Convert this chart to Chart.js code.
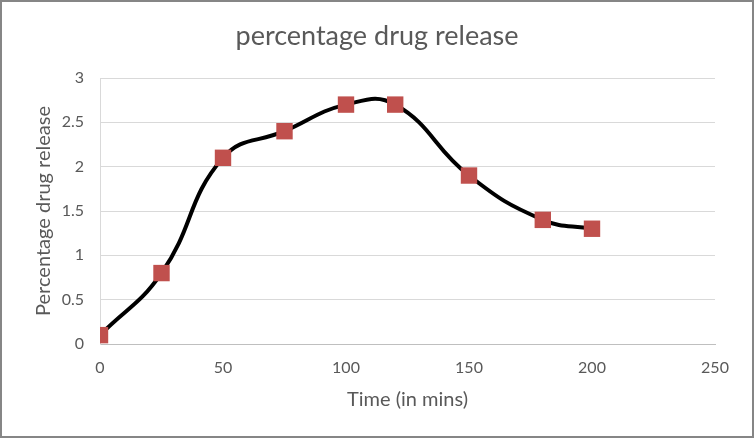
<!DOCTYPE html>
<html>
<head>
<meta charset="utf-8">
<script src="https://cdn.jsdelivr.net/npm/chart.js@4"></script>
<style>
  html, body { margin: 0; padding: 0; background: #fff; }
  #wrap { width: 754px; height: 438px; }
</style>
</head>
<body>
<div id="wrap"><canvas id="releaseChart" width="754" height="438"></canvas></div>
<script>
const timeMins = [0, 25, 50, 75, 100, 120, 150, 180, 200];
const releasePct = [0.1, 0.8, 2.1, 2.4, 2.7, 2.7, 1.9, 1.4, 1.3];

const textColor = '#595959';
const fontFamily = 'Lato, "Open Sans", sans-serif';

const frame = {
    id: 'frame',
    beforeDraw(chart) {
        const c = chart.ctx;
        c.save();
        c.fillStyle = '#ffffff';
        c.fillRect(0, 0, chart.width, chart.height);
        c.restore();
    },
    afterDraw(chart) {
        const c = chart.ctx;
        c.save();
        c.strokeStyle = '#868686';
        c.lineWidth = 2;
        c.strokeRect(1, 1, chart.width - 2, chart.height - 2);
        c.restore();
    }
};

const ctx = document.getElementById('releaseChart').getContext('2d');
new Chart(ctx, {
    type: 'scatter',
    data: {
        datasets: [{
            label: 'percentage drug release',
            data: timeMins.map((t, i) => ({ x: t, y: releasePct[i] })),
            showLine: true,
            borderColor: '#000000',
            borderWidth: 4,
            tension: 0.45,
            pointStyle: 'rect',
            pointRadius: 11.6,
            pointHoverRadius: 11.6,
            pointBackgroundColor: '#C0504D',
            pointBorderColor: '#C0504D',
            pointBorderWidth: 0
        }]
    },
    options: {
        responsive: false,
        animation: false,
        layout: { padding: 0 },
        plugins: {
            legend: { display: false },
            tooltip: { enabled: false },
            title: {
                display: true,
                text: 'percentage drug release',
                color: textColor,
                font: { family: fontFamily, size: 27, weight: 'normal' },
                padding: { top: 20, bottom: 25.6 }
            }
        },
        scales: {
            x: {
                type: 'linear',
                min: 0,
                max: 250,
                ticks: { stepSize: 50, color: textColor, font: { family: fontFamily, size: 16 }, padding: 14 },
                grid: { display: false, drawTicks: false },
                border: { color: '#BFBFBF', width: 1 },
                title: {
                    display: true,
                    text: 'Time (in mins)',
                    color: textColor,
                    font: { family: fontFamily, size: 20 },
                    padding: { top: 0, bottom: 26 }
                },
                afterFit(scale) { scale.height = 94; }
            },
            y: {
                min: 0,
                max: 3,
                ticks: {
                    stepSize: 0.5,
                    color: textColor,
                    font: { family: fontFamily, size: 16 },
                    padding: 16,
                    callback: v => String(v)
                },
                grid: { color: '#D9D9D9', drawTicks: false },
                border: { color: '#D9D9D9', width: 1 },
                title: {
                    display: true,
                    text: 'Percentage drug release',
                    color: textColor,
                    font: { family: fontFamily, size: 20 },
                    padding: { top: 32, bottom: 0 }
                },
                afterFit(scale) { scale.width = 100; }
            },
            // empty right-hand box that keeps the plot's right edge at x=250 like the original
            spacer: {
                type: 'linear',
                position: 'right',
                ticks: { display: false },
                grid: { display: false, drawTicks: false },
                border: { display: false },
                afterFit(scale) { scale.width = 39; }
            }
        }
    },
    plugins: [frame]
});
</script>
</body>
</html>
